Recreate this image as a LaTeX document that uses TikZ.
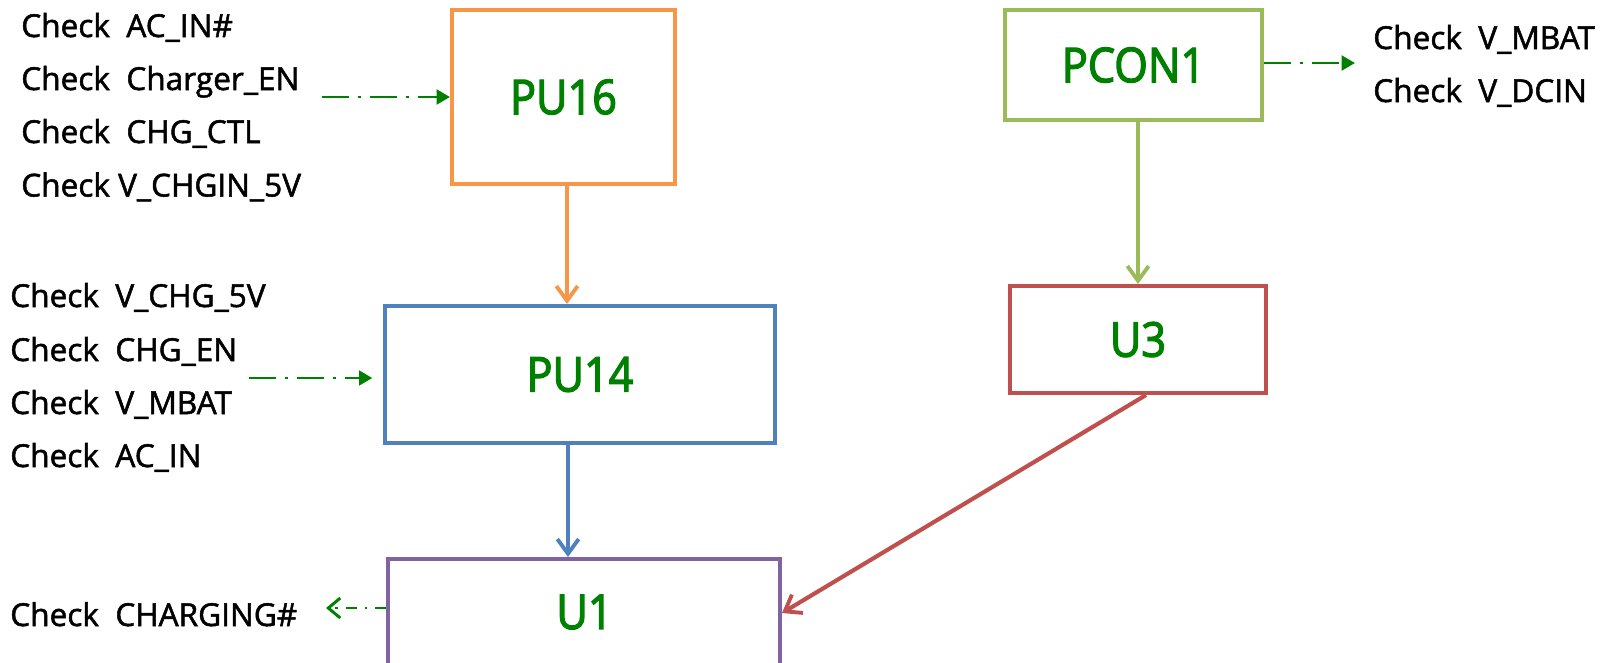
\documentclass[tikz,border=0pt]{standalone}
\usepackage{fontspec}
\setmainfont{Open Sans}[FakeBold=1.6]
\newfontfamily\lblfont{Open Sans}[FakeBold=2.6,FakeStretch=0.9]
\usetikzlibrary{arrows.meta,calc}
\definecolor{cOrange}{HTML}{F79646}
\definecolor{cLime}{HTML}{9BBB59}
\definecolor{cBlue}{HTML}{4F81BD}
\definecolor{cRed}{HTML}{C0504D}
\definecolor{cPurple}{HTML}{8064A2}
\definecolor{cLbl}{HTML}{008000}
\begin{document}
\begin{tikzpicture}[x=0.75pt,y=-0.75pt,
 blk/.style={draw=#1, line width=3pt, inner sep=0pt, font=\lblfont\fontsize{36}{42}\selectfont, text=cLbl},
 chk/.style={anchor=base west, inner sep=0pt, font=\fontsize{23.7}{28}\selectfont},
 flow/.style={draw=#1, line width=3.1pt, -{Straight Barb[length=11pt,width=16pt,line width=2.9pt]}},
 sig/.style={draw=cLbl, line width=2.2pt, dash pattern=on 20pt off 7pt on 2pt off 7pt, -{Triangle[length=10pt,width=11pt]}},
]
\useasboundingbox (0,0) rectangle (1614,662);
% blocks
\node[blk=cOrange, minimum width=167.25pt, minimum height=130.5pt] (pu16) at (563.5,97) {PU16};
\node[blk=cLime, minimum width=192.75pt, minimum height=82.5pt] (pcon1) at (1133.5,65) {PCON1};
\node[blk=cBlue, minimum width=292.5pt, minimum height=102.75pt] (pu14) at (580,374.5) {PU14};
\node[blk=cRed, minimum width=192pt, minimum height=80.25pt] (u3) at (1138,339.5) {U3};
\node[blk=cPurple, minimum width=294pt, minimum height=135pt, anchor=north] (u1) at (584,557) {};
\node[blk=none, draw=none] (u1lbl) at (584.5,612) {U1};
% texts
\node[chk] (t1) at (21,37) {Check\ \ AC\_IN\#};
\node[chk] (t2) at (21,90) {Check\ \ Charger\_EN};
\node[chk] (t3) at (21,143) {Check\ \ CHG\_CTL};
\node[chk] (t4) at (21,196.5) {Check V\_CHGIN\_5V};
\node[chk] (t5) at (10,307) {Check\ \ V\_CHG\_5V};
\node[chk] (t6) at (10,361) {Check\ \ CHG\_EN};
\node[chk] (t7) at (10,414) {Check\ \ V\_MBAT};
\node[chk] (t8) at (10,467) {Check\ \ AC\_IN};
\node[chk] (t9) at (1373,49) {Check\ \ V\_MBAT};
\node[chk] (t10) at (1373,102) {Check\ \ V\_DCIN};
\node[chk] (t11) at (10,626) {Check\ \ CHARGING\#};
% signal arrows
\coordinate (s1) at (322,97);
\coordinate (s2) at (249,378);
\coordinate (s3) at (1355,63);
\coordinate (s4) at (326,608);
\coordinate (o1) at (567,0);
\coordinate (b1) at (568,0);
\draw[sig] (s1) -- (s1 -| pu16.west);
\draw[sig, shorten >=8pt] (s2) -- (s2 -| pu14.west);
\draw[sig] (pcon1.east |- s3) -- (s3);
\draw[sig, dash pattern=on 8pt off 6pt on 2pt off 6pt, -{Straight Barb[length=9pt,width=15pt,line width=2.2pt]}] (s4 -| u1.west) -- (s4);
% flow arrows
\draw[flow=cOrange] (pu16.south -| o1) -- (pu14.north -| o1);
\draw[flow=cBlue] (pu14.south -| b1) -- (u1.north -| b1);
\draw[flow=cLime] (u3.north |- pcon1.south) -- (u3.north);
\draw[flow=cRed] ($(u3.south)+(8,0)$) -- ($(u1.north east)+(0,56)$);
\end{tikzpicture}
\end{document}
